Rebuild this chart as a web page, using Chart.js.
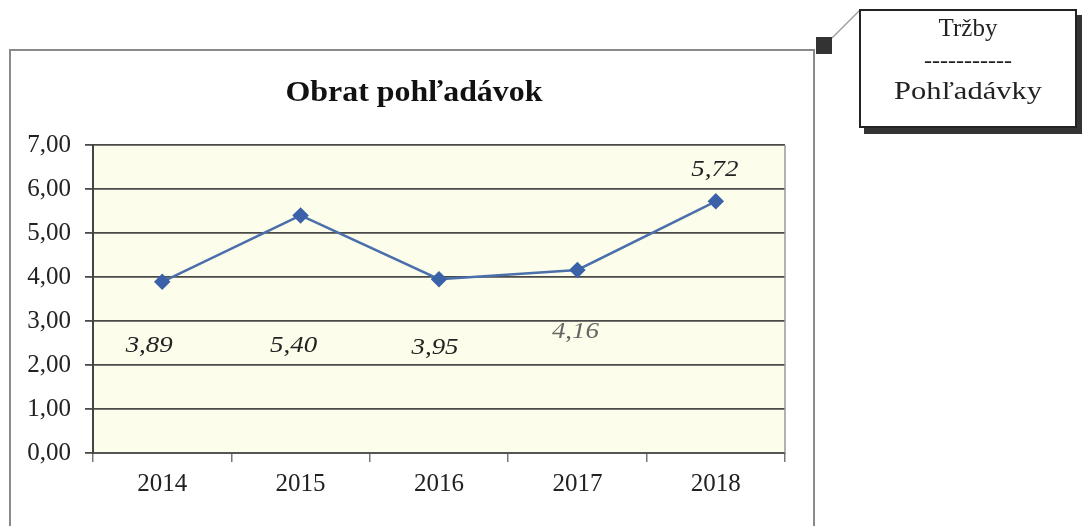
<!DOCTYPE html>
<html>
<head>
<meta charset="utf-8">
<script src="https://cdn.jsdelivr.net/npm/chart.js@4"></script>
<style>
  html, body { margin: 0; padding: 0; background: #fff; }
  #wrap { position: relative; width: 1087px; height: 526px; overflow: hidden; }
  #chart { position: absolute; left: 0; top: 0; }
  #callout {
    position: absolute; left: 859px; top: 9px; width: 214px; height: 115px;
    border: 2px solid #222; background: #fff; box-shadow: 5px 6px 0 #333;
    font-family: 'Liberation Serif', serif; font-size: 25px; color: #222;
    text-align: center; line-height: 1;
  }
  #callout div { position: absolute; left: 0; right: 0; white-space: nowrap; }
  #sq { position: absolute; left: 816px; top: 37px; width: 16px; height: 17px; background: #333; }
  #conn { position: absolute; left: 0; top: 0; }
</style>
</head>
<body>
<div id="wrap">
  <canvas id="chart" width="1087" height="526"></canvas>
  <svg id="conn" width="1087" height="526"><line x1="832" y1="38" x2="860" y2="10" stroke="#999" stroke-width="1.2"/></svg>
  <div id="sq"></div>
  <div id="callout">
    <div style="top:4px;">Tržby</div>
    <div style="top:37px; font-size: 24px;">-----------</div>
    <div style="top:67px; transform: scaleX(1.22);">Pohľadávky</div>
  </div>
</div>
<script>
const categories = ['2014', '2015', '2016', '2017', '2018'];
const turnoverRatio = [3.89, 5.40, 3.95, 4.16, 5.72];
const valueLabels = ['3,89', '5,40', '3,95', '4,16', '5,72'];
const yTickLabels = ['0,00', '1,00', '2,00', '3,00', '4,00', '5,00', '6,00', '7,00'];
const chartTitle = 'Obrat pohľadávok';

const SERIF = "'Liberation Serif', 'Times New Roman', serif";

const framePlugin = {
  id: 'frame',
  beforeDraw(chart) {
    const { ctx, chartArea: a } = chart;
    ctx.save();
    ctx.fillStyle = '#fdfdec';
    ctx.fillRect(a.left, a.top, a.right - a.left, a.bottom - a.top);
    ctx.strokeStyle = '#8a8a8a';
    ctx.lineWidth = 2;
    ctx.strokeRect(10, 50, 804, 520);
    ctx.fillStyle = '#111';
    ctx.font = 'bold 29px ' + SERIF;
    ctx.textAlign = 'center';
    ctx.textBaseline = 'middle';
    ctx.translate(414, 94);
    ctx.scale(1.1, 1);
    ctx.fillText(chartTitle, 0, 0);
    ctx.restore();
  },
  afterDraw(chart) {
    const { ctx, chartArea: a } = chart;
    ctx.save();
    ctx.strokeStyle = '#999';
    ctx.lineWidth = 1.5;
    ctx.beginPath();
    ctx.moveTo(a.right, a.top);
    ctx.lineTo(a.right, a.bottom);
    ctx.stroke();
    ctx.restore();
  }
};

const labelPlugin = {
  id: 'valueLabels',
  afterDatasetsDraw(chart, args, opts) {
    const { ctx } = chart;
    const meta = chart.getDatasetMeta(0);
    const ys = chart.scales.y;
    meta.data.forEach((pt, i) => {
      const anc = opts.anchors[i];
      ctx.save();
      ctx.font = 'italic 24px ' + SERIF;
      ctx.textAlign = 'center';
      ctx.textBaseline = 'middle';
      ctx.fillStyle = anc.color;
      ctx.translate(pt.x + anc.dx, ys.getPixelForValue(anc.atValue));
      ctx.scale(1.12, 1);
      ctx.fillText(valueLabels[i], 0, 0);
      ctx.restore();
    });
  }
};

new Chart(document.getElementById('chart'), {
  type: 'line',
  data: {
    labels: categories,
    datasets: [{
      data: turnoverRatio,
      borderColor: '#4a6fab',
      borderWidth: 2.5,
      pointStyle: 'rectRot',
      pointRadius: 6.5,
      pointBackgroundColor: '#3b62a8',
      pointBorderColor: '#3b62a8',
      tension: 0
    }]
  },
  options: {
    responsive: false,
    animation: false,
    layout: { padding: { left: 10, top: 145, right: 302, bottom: 0 } },
    plugins: {
      legend: { display: false },
      tooltip: { enabled: false },
      title: { display: false },
      valueLabels: {
        anchors: [
          { dx: -13, atValue: 2.45, color: '#222' },
          { dx: -7, atValue: 2.45, color: '#222' },
          { dx: -4, atValue: 2.40, color: '#222' },
          { dx: -2, atValue: 2.76, color: '#666' },
          { dx: -1, atValue: 6.43, color: '#222' }
        ]
      }
    },
    scales: {
      x: {
        type: 'category',
        offset: true,
        afterFit: s => { s.height = 73; },
        grid: { offset: true, drawOnChartArea: false, drawTicks: true, tickLength: 9, color: '#777', lineWidth: 1.5 },
        border: { color: '#555', width: 2 },
        ticks: { color: '#222', font: { family: SERIF, size: 25 }, padding: 7 }
      },
      y: {
        min: 0, max: 7,
        afterFit: s => { s.width = 83; },
        grid: { color: '#4a4a4a', lineWidth: 1.8, tickLength: 8 },
        border: { color: '#444', width: 2 },
        ticks: {
          stepSize: 1,
          color: '#222',
          font: { family: SERIF, size: 25 },
          padding: 14,
          callback: (v, i) => yTickLabels[i]
        }
      }
    }
  },
  plugins: [framePlugin, labelPlugin]
});
</script>
</body>
</html>
